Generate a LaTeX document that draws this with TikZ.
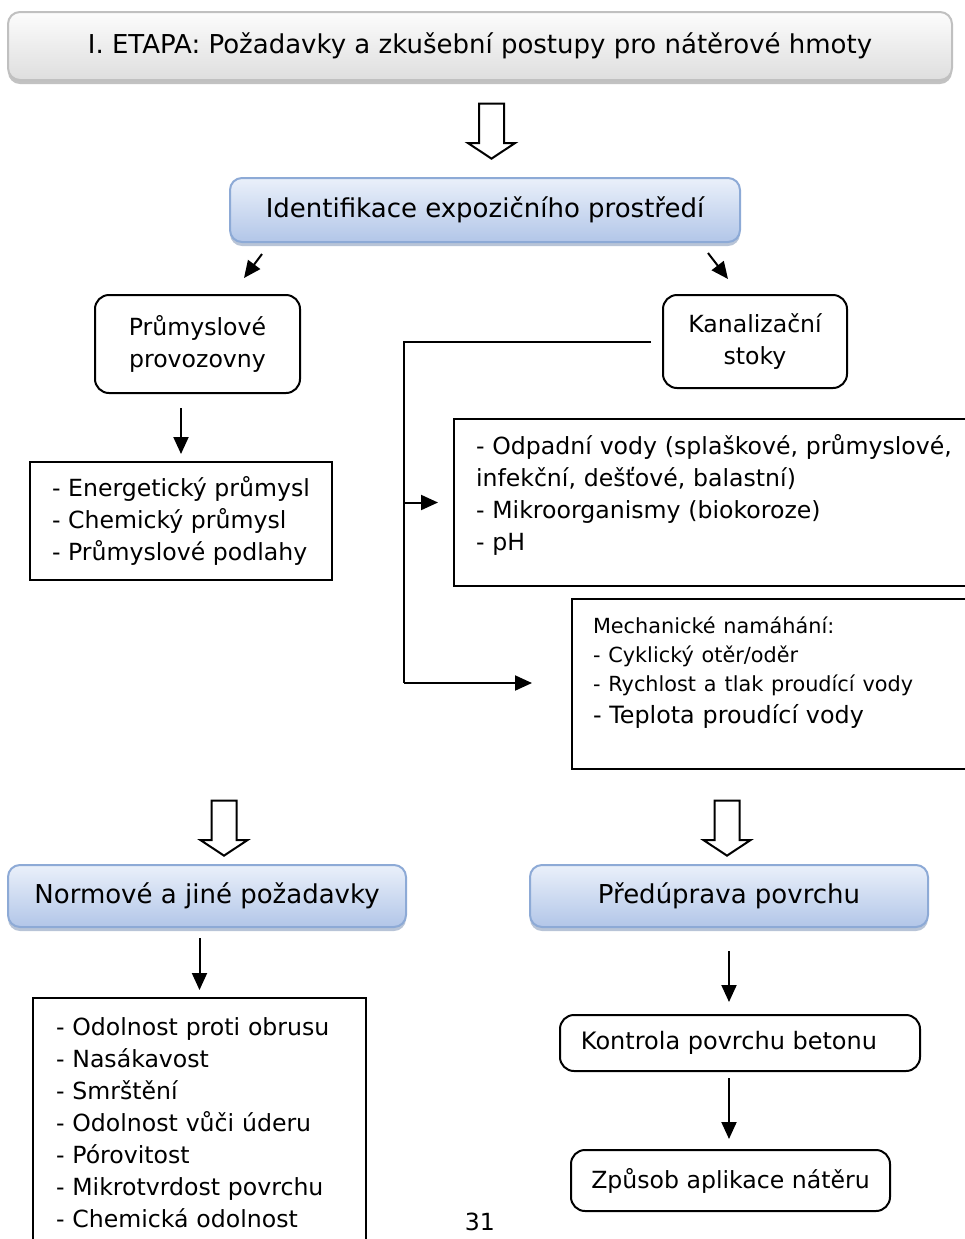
\documentclass[tikz,border=0pt]{standalone}
\usepackage{fontspec}
\setmainfont{DejaVu Sans}
\usetikzlibrary{shapes.arrows, shadows, arrows.meta}

\definecolor{grayedge}{RGB}{192,192,192}
\definecolor{graytop}{RGB}{252,252,252}
\definecolor{graybot}{RGB}{222,222,222}
\definecolor{blueedge}{RGB}{141,170,214}
\definecolor{bluetop}{RGB}{234,240,250}
\definecolor{bluebot}{RGB}{178,198,232}

\newcommand{\bigtxt}{\fontsize{13}{17}\selectfont}
\newcommand{\smalltxt}{\fontsize{10.4}{14.5}\selectfont}

\tikzset{
	every node/.style={font=\fontsize{11.8}{16}\selectfont},
	headbox/.style={rounded corners=6pt, draw=grayedge, line width=1pt, top color=graytop, bottom color=graybot,
		font=\bigtxt, drop shadow={shadow xshift=0pt, shadow yshift=-2pt, fill=gray!80, opacity=.6}},
	bluebox/.style={rounded corners=6pt, draw=blueedge, line width=1pt, top color=bluetop, bottom color=bluebot,
		font=\bigtxt, drop shadow={shadow xshift=0pt, shadow yshift=-2pt, fill=blueedge!70!gray, opacity=.6}},
	roundbox/.style={rounded corners=7pt, draw, line width=1pt, align=center},
	listbox/.style={draw, line width=1pt, align=left},
	hollow/.style={single arrow, draw, line width=1pt, fill=white, shape border rotate=270,
		inner sep=5.75pt, minimum height=27.5pt, single arrow head extend=5.5pt, single arrow tip angle=113},
	arr/.style={-{Triangle[length=8.5pt,width=7.5pt]}, line width=1pt},
}

\begin{document}
\begin{tikzpicture}[x=0.5pt, y=-0.5pt]
	\clip (0,0) rectangle (965,1239);
	
	% Stage header
	\node[headbox, minimum width=472pt, minimum height=34pt] (etapa) at (480,46)
		{I. ETAPA: Požadavky a zkušební postupy pro nátěrové hmoty};
	\node[hollow] (harrA) at (491.5,127) {};
	\node[bluebox, minimum width=255pt, minimum height=32pt] (ident) at (485,210)
		{Identifikace expozičního prostředí};
	
	% Environments
	\draw[arr] ([shift={(33,11)}]ident.south west) -- ++(-18,24);
	\draw[arr] ([shift={(-33,10)}]ident.south east) -- ++(20,26);
	\node[roundbox, minimum width=102.5pt, minimum height=49pt] (prum) at (197.5,344)
		{Průmyslové\\provozovny};
	\node[roundbox, minimum width=92pt, minimum height=46.5pt] (kanal) at (755,341.5)
		{Kanalizační\\stoky};
	
	% Industrial plants
	\node[listbox, minimum width=151pt, minimum height=59pt] (indus) at (181,521)
		{- Energetický průmysl\\- Chemický průmysl\\- Průmyslové podlahy};
	\draw[arr, shorten <=7pt, shorten >=3.5pt] (prum.south -| indus.north) -- (indus.north);
	
	% Sewers
	\node[listbox, anchor=north west, text width=300pt, inner xsep=11pt, minimum height=83.5pt, text depth=58pt] (odpad) at (453,418)
		{- Odpadní vody (splaškové, průmyslové,\\infekční, dešťové, balastní)\\- Mikroorganismy (biokoroze)\\- pH};
	\node[listbox, anchor=north west, text width=250pt, inner xsep=10.5pt, minimum height=85pt, text depth=58.7pt] (mech) at (571,598)
		{\smalltxt Mechanické namáhání:\\- Cyklický otěr/oděr\\- Rychlost a tlak proudící vody\par
		\fontsize{11.9}{16}\selectfont - Teplota proudící vody};
	\coordinate (bus) at (404,683);
	\draw[line width=1pt, shorten <=5.5pt] (kanal.west) -| (bus);
	\draw[arr, shorten >=7.5pt] (bus |- odpad.west) -- (odpad.west);
	\draw[arr, shorten >=19.5pt] (bus) -- (bus -| mech.west);
	
	% Requirements
	\node[hollow] (harrB) at (224,824) {};
	\node[hollow] (harrC) at (727,824) {};
	\node[bluebox, minimum width=199pt, minimum height=31pt] (norm) at (207,896)
		{Normové a jiné požadavky};
	\node[bluebox, minimum width=199pt, minimum height=31pt] (predup) at (729,896)
		{Předúprava povrchu};
	\node[listbox, anchor=north west, text width=143.5pt, inner xsep=11.5pt, minimum height=150pt, text depth=121pt] (req) at (32,997)
		{- Odolnost proti obrusu\\- Nasákavost\\- Smrštění\\- Odolnost vůči úderu\\- Pórovitost\\- Mikrotvrdost povrchu\\- Chemická odolnost};
	\draw[arr, shorten <=5pt, shorten >=3.5pt] (norm.south -| req.north) -- (req.north);
	
	% Surface preparation
	\node[roundbox, minimum width=180pt, minimum height=28pt, font=\fontsize{12}{16}\selectfont] (kontr) at (740,1043)
		{Kontrola povrchu betonu\hspace{11pt}};
	\node[roundbox, minimum width=159.5pt, minimum height=30.5pt] (zpus) at (730.5,1180.5)
		{Způsob aplikace nátěru};
	\draw[arr, shorten <=11.5pt, shorten >=6pt] (predup.south) -- (predup.south |- kontr.north);
	\draw[arr, shorten <=3pt, shorten >=5pt] (kontr.south -| predup.south) -- (zpus.north -| predup.south);
	
	\node (page) at (480,1222) {31};
\end{tikzpicture}
\end{document}
